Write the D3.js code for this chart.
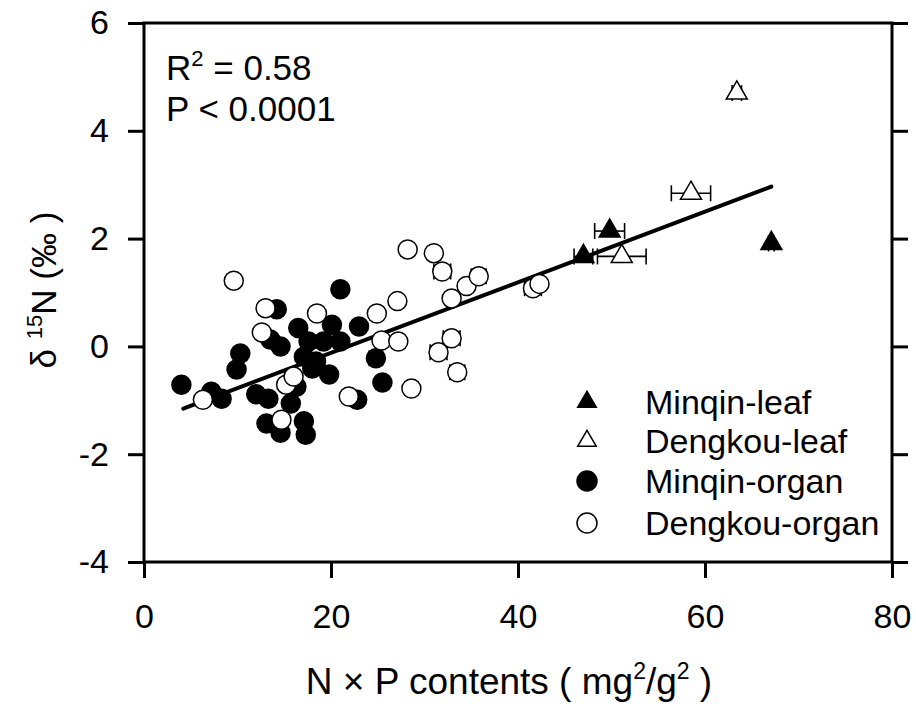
<!DOCTYPE html>
<html>
<head>
<meta charset="utf-8">
<script src="https://cdn.jsdelivr.net/npm/d3@7"></script>
<style>
  body { margin: 0; background: #fff; }
  text { font-family: "Liberation Sans", Arial, sans-serif; fill: #000; }
</style>
</head>
<body>
<div id="chart"></div>
<script>
// Minqin leaf (filled triangles)
const mqLeafX = [47.0, 49.8, 67.1]
const mqLeafY = [1.67, 2.14, 1.91]
const mqLeafErr = [1.0, 1.6, 0.3]

// Dengkou leaf (open triangles)
const dkLeafX = [51.1, 58.5, 63.4]
const dkLeafY = [1.67, 2.84, 4.70]
const dkLeafErr = [2.6, 2.1, 0.5]

// Minqin organ (filled circles)
const mqOrganX = [4.0, 7.2, 8.3, 9.9, 10.3, 12.0, 13.1, 13.3, 13.5, 14.2, 14.6, 14.6, 15.7, 16.3, 16.5, 17.1, 17.1, 17.3, 17.6, 18.0, 18.4, 19.2, 19.8, 20.1, 21.0, 21.0, 22.8, 23.0, 24.8, 25.5]
const mqOrganY = [-0.71, -0.84, -0.97, -0.43, -0.13, -0.89, -1.43, -0.97, 0.13, 0.69, 0.0, -1.6, -1.06, -0.75, 0.34, -0.19, -1.39, -1.64, 0.09, -0.41, -0.28, 0.09, -0.52, 0.40, 0.09, 1.06, -0.99, 0.37, -0.22, -0.67]
const mqOrganErr = [0.2, 0.2, 0.2, 0.2, 0.2, 0.2, 0.3, 0.2, 0.2, 0.2, 0.2, 0.3, 0.2, 0.2, 0.2, 0.2, 0.2, 0.3, 0.2, 0.2, 0.2, 0.2, 0.2, 0.2, 0.2, 0.2, 0.2, 0.2, 0.7, 0.2]

// Dengkou organ (open circles)
const dkOrganX = [6.3, 9.6, 12.6, 13.0, 14.7, 15.2, 16.0, 18.5, 21.9, 24.9, 25.4, 27.1, 27.2, 28.2, 28.6, 31.0, 31.5, 31.9, 32.9, 32.9, 33.5, 34.5, 35.8, 41.6, 42.3]
const dkOrganY = [-0.99, 1.22, 0.26, 0.71, -1.36, -0.71, -0.56, 0.61, -0.93, 0.61, 0.11, 0.84, 0.09, 1.80, -0.78, 1.73, -0.11, 1.39, 0.89, 0.15, -0.48, 1.12, 1.30, 1.08, 1.16]
const dkOrganErr = [0.2, 0.2, 0.2, 0.2, 0.2, 0.2, 0.2, 0.2, 0.2, 0.3, 0.2, 0.2, 0.2, 0.4, 0.2, 0.3, 0.9, 0.9, 0.2, 0.9, 0.8, 0.4, 0.8, 0.9, 0.5]

// regression line
const fitX = [4.2, 67.1]
const slope = 0.0655, intercept = -1.43

const xTicks = [0, 20, 40, 60, 80]
const yTicks = [-4, -2, 0, 2, 4, 6]
const legendNames = ['Minqin-leaf', 'Dengkou-leaf', 'Minqin-organ', 'Dengkou-organ']

const width = 916, height = 706
const plotLeft = 144, plotRight = 892, plotTop = 23, plotBottom = 562

let svg = d3.select('#chart')
  .append('svg')
  .attr('width', width)
  .attr('height', height)

let x = d3.scaleLinear().domain([0, 80]).range([plotLeft, plotRight])
let y = d3.scaleLinear().domain([-4, 6]).range([plotBottom, plotTop])

// axes
let styleAxis = (g, size) => {
  g.select('.domain').remove()
  g.selectAll('line').attr('stroke', '#000').attr('stroke-width', 3)
  g.selectAll('text').style('font-size', size + 'px').attr('fill', '#000')
}
let plain = d => String(d)

svg.append('g')
  .attr('transform', `translate(0,${plotBottom})`)
  .call(d3.axisBottom(x).tickValues(xTicks).tickSize(16).tickPadding(26).tickFormat(plain))
  .call(g => styleAxis(g, 34))

svg.append('g')
  .attr('transform', `translate(${plotLeft},0)`)
  .call(d3.axisLeft(y).tickValues(yTicks).tickSize(16).tickPadding(19).tickFormat(plain))
  .call(g => styleAxis(g, 34))

svg.append('g')
  .attr('transform', `translate(${plotRight},0)`)
  .call(d3.axisRight(y).tickValues(yTicks).tickSize(16).tickFormat(''))
  .call(g => styleAxis(g, 34))

// frame
svg.append('rect')
  .attr('x', plotLeft).attr('y', plotTop)
  .attr('width', plotRight - plotLeft).attr('height', plotBottom - plotTop)
  .attr('fill', 'none').attr('stroke', '#000').attr('stroke-width', 3)

// regression line
svg.append('line')
  .attr('x1', x(fitX[0])).attr('y1', y(intercept + slope * fitX[0]))
  .attr('x2', x(fitX[1])).attr('y2', y(intercept + slope * fitX[1]))
  .attr('stroke', '#000').attr('stroke-width', 4).attr('stroke-linecap', 'round')

let rows = (xs, ys, es) => xs.map((d, i) => ({ x: d, y: ys[i], e: es[i] }))
let series = [
  { name: 'mqOrgan', shape: 'circle', fill: '#000', data: rows(mqOrganX, mqOrganY, mqOrganErr) },
  { name: 'dkOrgan', shape: 'circle', fill: '#fff', data: rows(dkOrganX, dkOrganY, dkOrganErr) },
  { name: 'mqLeaf', shape: 'triangle', fill: '#000', data: rows(mqLeafX, mqLeafY, mqLeafErr) },
  { name: 'dkLeaf', shape: 'triangle', fill: '#fff', data: rows(dkLeafX, dkLeafY, dkLeafErr) }
]

let circleSym = d3.symbol().type(d3.symbolCircle).size(Math.PI * 9.5 * 9.5)
let triSym = d3.symbol().type(d3.symbolTriangle).size(190)

series.forEach(s => {
  let g = svg.append('g').attr('class', s.name)
  // horizontal error bars
  let eb = g.selectAll('g.err').data(s.data).enter().append('g').attr('class', 'err')
    .attr('stroke', '#000').attr('stroke-width', 1.6)
  eb.append('line')
    .attr('x1', d => x(d.x - d.e)).attr('x2', d => x(d.x + d.e))
    .attr('y1', d => y(d.y)).attr('y2', d => y(d.y))
  eb.append('line')
    .attr('x1', d => x(d.x - d.e)).attr('x2', d => x(d.x - d.e))
    .attr('y1', d => y(d.y) - 8).attr('y2', d => y(d.y) + 8)
  eb.append('line')
    .attr('x1', d => x(d.x + d.e)).attr('x2', d => x(d.x + d.e))
    .attr('y1', d => y(d.y) - 8).attr('y2', d => y(d.y) + 8)
  g.selectAll('path.pt').data(s.data).enter().append('path')
    .attr('class', 'pt')
    .attr('d', s.shape === 'circle' ? circleSym : triSym)
    .attr('transform', d => `translate(${x(d.x)},${y(d.y)})`)
    .attr('fill', s.fill)
    .attr('stroke', '#000').attr('stroke-width', 1.5)
})

// legend
let legendShapes = [
  { sym: d3.symbol().type(d3.symbolTriangle).size(150), fill: '#000' },
  { sym: d3.symbol().type(d3.symbolTriangle).size(150), fill: '#fff' },
  { sym: d3.symbol().type(d3.symbolCircle).size(Math.PI * 10 * 10), fill: '#000' },
  { sym: d3.symbol().type(d3.symbolCircle).size(Math.PI * 10 * 10), fill: '#fff' }
]
let legendY = [402, 441, 481, 523]
legendNames.forEach((name, i) => {
  svg.append('path')
    .attr('d', legendShapes[i].sym())
    .attr('transform', `translate(587,${legendY[i]})`)
    .attr('fill', legendShapes[i].fill)
    .attr('stroke', '#000').attr('stroke-width', 1.5)
  svg.append('text')
    .attr('x', 645).attr('y', legendY[i] + 12)
    .style('font-size', '34px')
    .text(name)
})

// statistics
let stat = svg.append('text').attr('x', 166).attr('y', 80).style('font-size', '35px')
stat.append('tspan').text('R')
stat.append('tspan').attr('dy', -14).style('font-size', '22px').text('2')
stat.append('tspan').attr('dy', 14).text(' = 0.58')
svg.append('text').attr('x', 166).attr('y', 121).style('font-size', '35px').text('P < 0.0001')

// axis titles
let xl = svg.append('text').attr('x', 509).attr('y', 694)
  .attr('text-anchor', 'middle').style('font-size', '37px')
xl.append('tspan').text('N \u00d7  P contents ( mg')
xl.append('tspan').attr('dy', -15).style('font-size', '23px').text('2')
xl.append('tspan').attr('dy', 15).text('/g')
xl.append('tspan').attr('dy', -15).style('font-size', '23px').text('2')
xl.append('tspan').attr('dy', 15).text(' )')

let yl = svg.append('text')
  .attr('transform', 'translate(56,290) rotate(-90)')
  .attr('text-anchor', 'middle').style('font-size', '35px')
yl.append('tspan').text('\u03b4 ')
yl.append('tspan').attr('dy', -14).style('font-size', '22px').text('15')
yl.append('tspan').attr('dy', 14).text('N (\u2030 )')
</script>
</body>
</html>
